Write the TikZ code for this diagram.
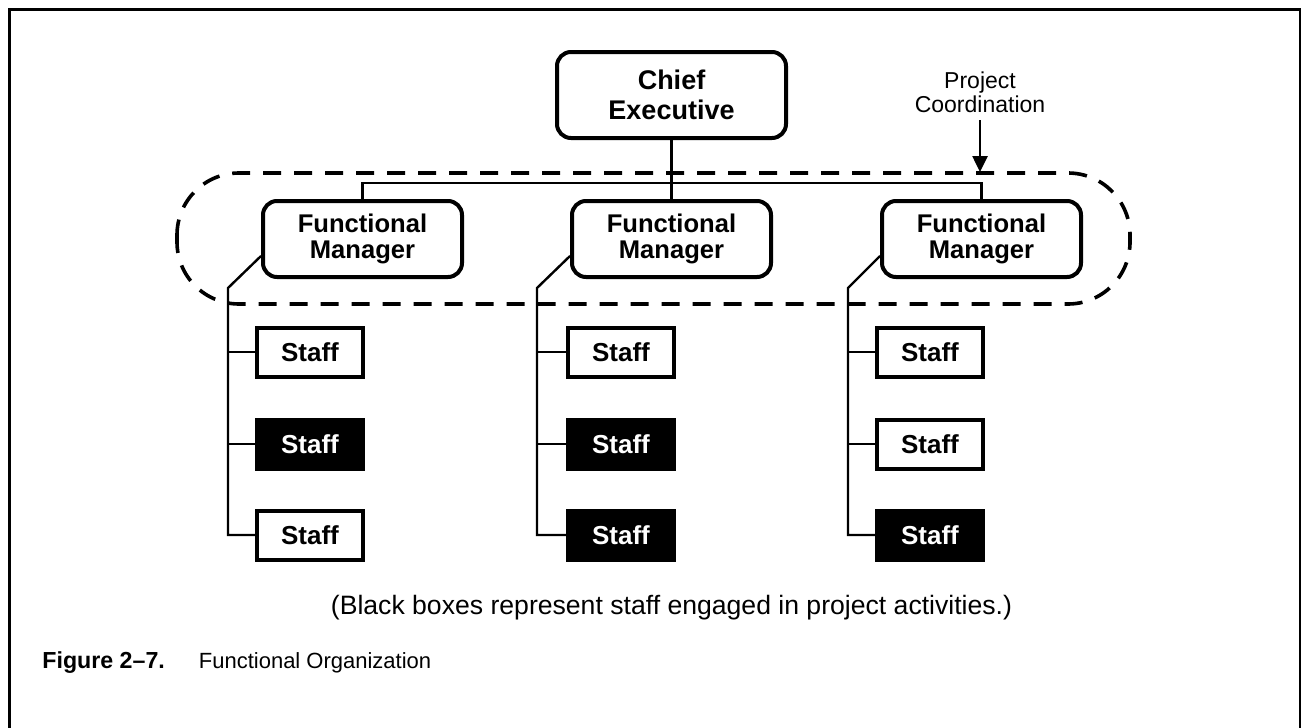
\documentclass[tikz,border=0pt]{standalone}
\usepackage{fontspec}
\setmainfont{Liberation Sans}
\usetikzlibrary{arrows.meta}

\tikzset{
  boss/.style={draw, line width=2pt, rounded corners=7pt, align=center,
    minimum width=114.5pt, minimum height=43pt, inner sep=0pt,
    font=\fontsize{13.5}{15}\selectfont\bfseries},
  manager/.style={draw, line width=2pt, rounded corners=7pt, align=center,
    minimum width=99.5pt, minimum height=38pt, inner sep=0pt,
    font=\fontsize{12.8}{12.8}\selectfont\bfseries},
  staffbox/.style={draw, line width=2pt, minimum width=53pt, minimum height=24.5pt,
    inner sep=0pt, font=\fontsize{13}{13}\selectfont\bfseries},
  busy/.style={staffbox, fill=black, text=white},
  link/.style={line width=1.2pt},
}

\begin{document}
\begin{tikzpicture}[x=0.5pt, y=-0.5pt]
  \useasboundingbox (0,0) rectangle (1301,728);
  % Frame
  \draw[line width=1.5pt] (9,740) -- (9,9) -- (1300,9) -- (1300,740);

  % Chief and managers
  \node[boss] (chief) at (671.5,95) {Chief\\Executive};
  \node[manager] (m1) at (362.5,239) {Functional\\Manager};
  \node[manager] (m2) at (671.5,239) {Functional\\Manager};
  \node[manager] (m3) at (981.5,239) {Functional\\Manager};
  \coordinate (bus) at (671.5,183);
  \draw[link] (chief) -- (m2);
  \draw[link] (m1.north) |- (bus) -| (m3.north);

  % Project coordination band
  \draw[line width=1.8pt, dash pattern=on 9pt off 6.5pt, rounded corners=31pt]
    (177,173) rectangle (1130,304);
  \coordinate (pc) at (980,172);
  \node[align=center, font=\fontsize{11.5}{12}\selectfont, anchor=south] (pclabel) at (980,120)
    {Project\\Coordination};
  \draw[line width=1.3pt, -{Triangle[width=7.5pt,length=8pt]}] (pclabel) -- (pc);

  % Staff columns
  \node[staffbox] (s11) at (310,352) {Staff};
  \node[busy]     (s12) at (310,444) {Staff};
  \node[staffbox] (s13) at (310,535) {Staff};
  \node[staffbox] (s21) at (621,352) {Staff};
  \node[busy]     (s22) at (621,444) {Staff};
  \node[busy]     (s23) at (621,535) {Staff};
  \node[staffbox] (s31) at (930,352) {Staff};
  \node[staffbox] (s32) at (930,444) {Staff};
  \node[busy]     (s33) at (930,535) {Staff};
  \coordinate (k1) at (228,288);
  \coordinate (k2) at (537,288);
  \coordinate (k3) at (848,288);
  \foreach \m/\k/\c in {m1/k1/1, m2/k2/2, m3/k3/3} {
    \draw[link] ([yshift=-8.5pt]\m.west) -- (\k) |- (s\c3);
    \draw[link] (\k |- s\c1) -- (s\c1);
    \draw[link] (\k |- s\c2) -- (s\c2);
  }

  % Notes
  \node[font=\fontsize{13.3}{14}\selectfont] (note) at (671.5,608)
    {(Black boxes represent staff engaged in project activities.)};
  \node[anchor=base west, inner sep=0pt, font=\fontsize{11.6}{12}\selectfont] (caption) at (42,668)
    {\textbf{Figure 2–7.}\hspace{17pt}\fontsize{11}{12}\selectfont Functional Organization};
\end{tikzpicture}
\end{document}
